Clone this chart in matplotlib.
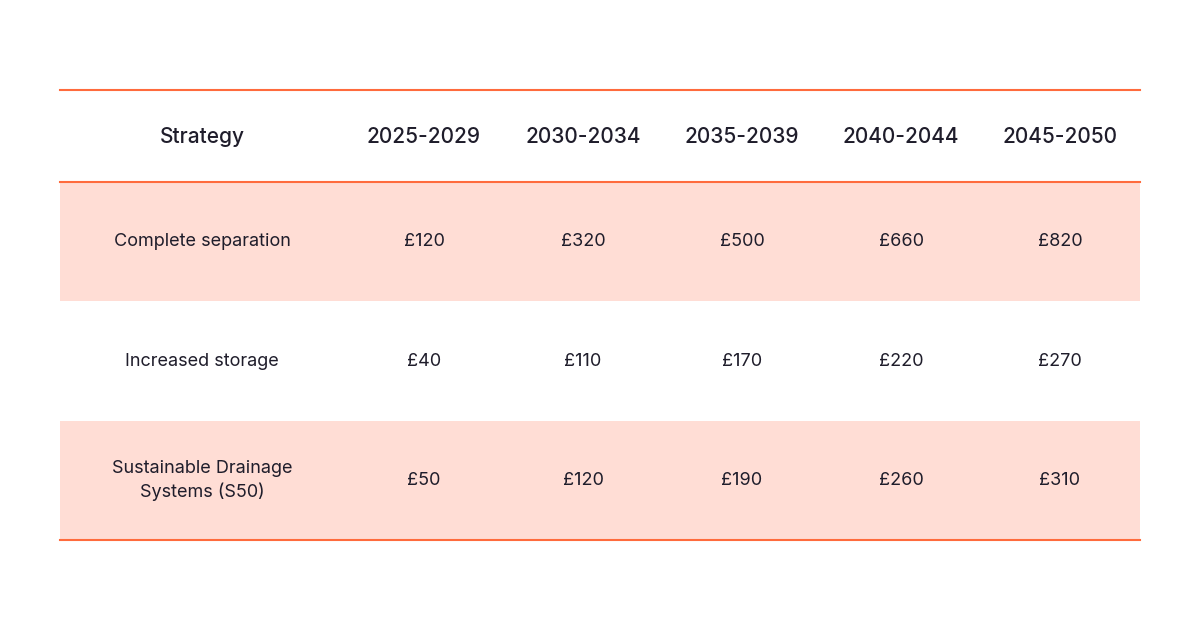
import matplotlib.pyplot as plt
from matplotlib.patches import Rectangle

# Tabellendaten
header = ["Strategy", "2025-2029", "2030-2034", "2035-2039", "2040-2044", "2045-2050"]
strategies = ["Complete separation", "Increased storage", "Sustainable Drainage\nSystems (S50)"]
costs = [
    [120, 320, 500, 660, 820],
    [40, 110, 170, 220, 270],
    [50, 120, 190, 260, 310],
]

col_x = [202, 424, 583, 742, 901, 1060]
row_edges = [182, 301, 421, 540]
line_col = "#FF6B3D"
pink = "#FFDDD5"
ink = "#1F1D2B"

fig = plt.figure(figsize=(12, 6.3), dpi=100)
ax = plt.axes([0, 0, 1, 1])
ax.set_xlim(0, 1200)
ax.set_ylim(630, 0)
ax.axis("off")

# Zeilen
for i, name in enumerate(strategies):
    top, bot = row_edges[i], row_edges[i + 1]
    if i % 2 == 0:
        ax.add_patch(Rectangle((60, top), 1080, bot - top, color=pink, lw=0))
    yc = (top + bot) / 2
    ax.text(col_x[0], yc, name, ha="center", va="center", fontsize=13,
            color=ink, family="Inter", linespacing=1.4)
    for j, v in enumerate(costs[i]):
        ax.text(col_x[j + 1], yc, f"£{v}", ha="center", va="center",
                fontsize=13, color=ink, family="Inter")

# Kopfzeile
for x, h in zip(col_x, header):
    ax.text(x, 137, h, ha="center", va="center", fontsize=15, color=ink,
            family="Inter", fontweight="medium")

for y in [90, 182, 540]:
    ax.plot([60, 1140], [y, y], color=line_col, lw=1.5)

fig.savefig("out.png")
